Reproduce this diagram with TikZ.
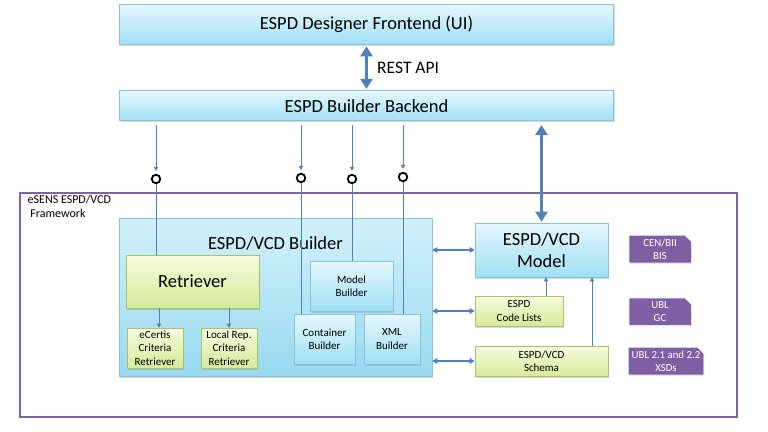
\documentclass[tikz,border=0pt]{standalone}
\usepackage{fontspec}
\setmainfont{Carlito}
\usetikzlibrary{arrows.meta,shadows,shapes.misc}
\pgfdeclarelayer{bg}
\pgfsetlayers{bg,main}
\definecolor{lineblue}{HTML}{4F81BD}
\definecolor{boxline}{HTML}{86C3D6}
\definecolor{bluetop}{HTML}{E6F7FC}
\definecolor{bluebot}{HTML}{9FE0F4}
\definecolor{buildertop}{HTML}{D2F1FA}
\definecolor{builderbot}{HTML}{98DAF1}
\definecolor{greenline}{HTML}{A8C46A}
\definecolor{greentop}{HTML}{F6FBDF}
\definecolor{greenbot}{HTML}{D5EB98}
\definecolor{framepurple}{HTML}{8064A2}
\definecolor{tagpurple}{HTML}{7F5FA3}
\tikzset{
    box/.style={rectangle, inner sep=0mm, align=center, line width=0.6pt,
        drop shadow={shadow xshift=1pt, shadow yshift=-1.5pt, opacity=0.3}},
    bluebox/.style={box, draw=boxline, top color=bluetop, bottom color=bluebot},
    greenbox/.style={box, draw=greenline, top color=greentop, bottom color=greenbot},
    tagbox/.style={chamfered rectangle, chamfered rectangle corners=north east,
        chamfered rectangle sep=3pt, inner sep=0mm, fill=tagpurple, text=white,
        align=center, font=\fontsize{10.8}{13.5}\selectfont,
        drop shadow={shadow xshift=1pt, shadow yshift=-1.5pt, opacity=0.2}},
    plug/.style={circle, draw, line width=1.8pt, minimum size=8.5pt, inner sep=0mm, fill=white},
    big/.style={font=\fontsize{18.5}{22}\selectfont},
    small/.style={font=\fontsize{11}{13.3}\selectfont},
    link/.style={draw=lineblue, line width=0.8pt},
    feed/.style={link, -{Triangle[width=4.5pt,length=4pt]}},
    swap/.style={link, line width=1.2pt, {Triangle[width=5.5pt,length=5pt]}-{Triangle[width=5.5pt,length=5pt]}},
    fat/.style={draw=lineblue, line width=3.3pt, {Triangle[width=12pt,length=10pt]}-{Triangle[width=12pt,length=10pt]}}
}

\begin{document}
\begin{tikzpicture}[x=1pt, y=-1pt]
        \useasboundingbox (0,0) rectangle (768,431);
        \begin{pgfonlayer}{bg}
                \node (frame) [draw=framepurple, line width=1.3pt, minimum width=717pt, minimum height=224pt, inner sep=0mm] at (378.5, 305) {};
        \end{pgfonlayer}
        \node (framelbl) [anchor=north west, align=left, font=\fontsize{12}{14}\selectfont, inner sep=0mm] at (27.5, 194.5) {eSENS ESPD/VCD\\\ Framework};
        \node (front) [bluebox, big, minimum width=494pt, minimum height=39.5pt] at (366.5, 24.3) {ESPD Designer Frontend (UI)};
        \node (back) [bluebox, big, minimum width=494pt, minimum height=30pt] at (366.5, 105.7) {ESPD Builder Backend};
        \node (rest) [anchor=west, font=\fontsize{17.5}{20}\selectfont, inner sep=0mm] at (377, 68) {REST API};
        \node (builder) [bluebox, top color=buildertop, bottom color=builderbot, minimum width=313pt, minimum height=158pt] at (275.5, 297) {};
        \node (builderlbl) [big, inner sep=0mm] at (275.5, 243) {ESPD/VCD Builder};
        \node (retriever) [greenbox, big, minimum width=133pt, minimum height=53pt] at (192.5, 281.5) {Retriever};
        \node (ecertis) [greenbox, small, minimum width=56pt, minimum height=40pt] at (155, 348) {eCertis\\Criteria\\Retriever};
        \node (localrep) [greenbox, small, minimum width=56pt, minimum height=40pt] at (229, 348) {Local Rep.\\Criteria\\Retriever};
        \node (modelb) [bluebox, small, minimum width=83pt, minimum height=50pt] at (351.5, 286) {Model\\Builder};
        \node (contb) [bluebox, small, minimum width=61pt, minimum height=50pt] at (324.5, 339) {Container\\Builder};
        \node (xmlb) [bluebox, small, minimum width=56pt, minimum height=50pt] at (392, 339) {XML\\Builder};
        \node (model) [bluebox, big, minimum width=133pt, minimum height=54pt] at (541.5, 250) {ESPD/VCD\\Model};
        \node (codes) [greenbox, small, minimum width=88pt, minimum height=30pt] at (519, 311) {ESPD\\Code Lists};
        \node (schema) [greenbox, small, minimum width=133pt, minimum height=30pt] at (541.5, 361) {ESPD/VCD\\Schema};
        \node (bis) [tagbox, minimum width=61.5pt, minimum height=25.5pt] at (660, 249.2) {CEN/BII\\BIS};
        \node (gc) [tagbox, minimum width=61.5pt, minimum height=25.5pt] at (660, 311.7) {UBL\\GC};
        \node (xsd) [tagbox, minimum width=73.5pt, minimum height=24.5pt] at (666, 361.2) {UBL 2.1 and 2.2\\XSDs};
        \node (p1) [plug] at (156, 179) {};
        \node (p2) [plug] at (301, 178) {};
        \node (p3) [plug] at (352, 179) {};
        \node (p4) [plug] at (403, 177) {};
        \coordinate (ec) at ([xshift=4pt]ecertis.north);
        \coordinate (lr) at (localrep.north);
        \coordinate (cl) at ([xshift=27pt]codes.north);
        \coordinate (sc) at ([xshift=50.5pt]schema.north);
        % backend to the builders
        \foreach \p in {p1,p2,p3,p4}
                \draw (\p |- back.south) edge [feed, shorten <=4pt, shorten >=3pt] (\p);
        \draw (p1) edge [link] (p1 |- retriever.north);
        \draw (p2) edge [link] (p2 |- contb.north);
        \draw (p3) edge [link] (p3 |- modelb.north);
        \draw (p4) edge [link] (p4 |- xmlb.north);
        \draw (ec |- retriever.south) edge [feed] (ec);
        \draw (lr |- retriever.south) edge [feed] (lr);
        \draw (builder.east |- model.west) edge [swap] (model.west);
        \draw (builder.east |- codes.west) edge [swap] (codes.west);
        \draw (builder.east |- schema.west) edge [swap] (schema.west);
        \draw (cl) edge [feed] (cl |- model.south);
        \draw (sc) edge [feed] (sc |- model.south);
        \draw (front.south) edge [fat, shorten <=2pt, shorten >=1.5pt] (back.north);
        \draw (model.north) edge [fat, shorten <=1pt, shorten >=4pt] (model.north |- back.south);
\end{tikzpicture}
\end{document}
